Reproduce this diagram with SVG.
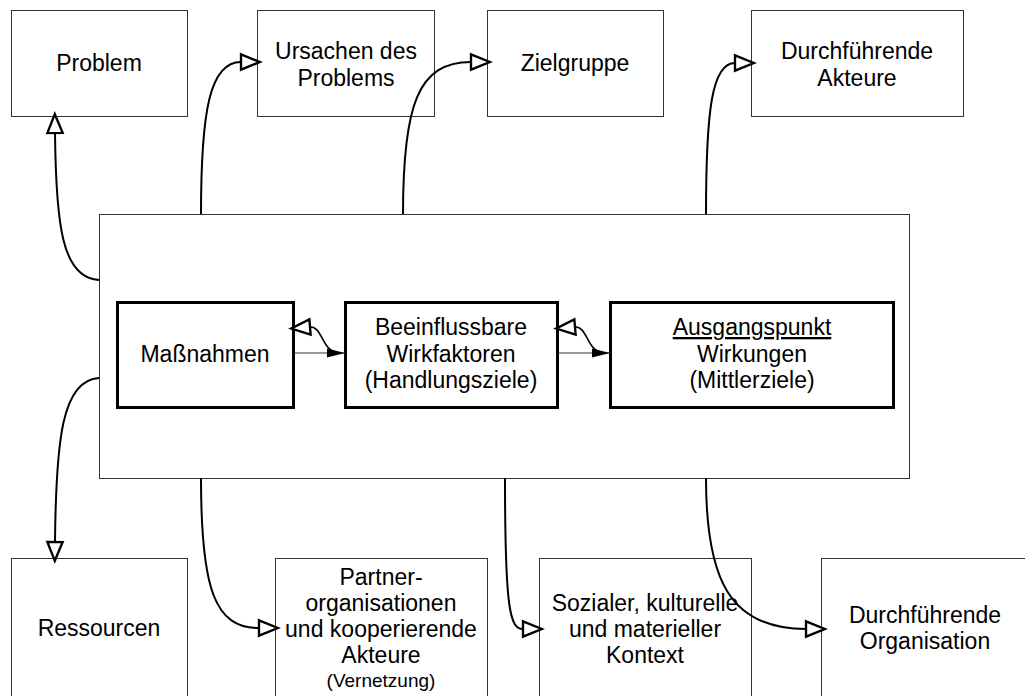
<svg xmlns="http://www.w3.org/2000/svg" width="1025" height="696" viewBox="0 0 1025 696">
  <style>
    .box { fill: #ffffff; stroke: #333333; stroke-width: 1; }
    .inner { fill: #ffffff; stroke: #000000; stroke-width: 3; }
    .lbl { font-family: "Liberation Sans", Arial, sans-serif; font-size: 23px; fill: #000000; text-anchor: middle; }
    .small { font-size: 19px; }
    .conn { fill: none; stroke: #000000; stroke-width: 2; }
    .fb { fill: none; stroke: #000000; stroke-width: 1.6; }
    .thin { fill: none; stroke: #333333; stroke-width: 1; }
  </style>
  <defs>
    <marker id="open" markerUnits="userSpaceOnUse" markerWidth="20" markerHeight="16" viewBox="0 0 17 13" refX="0" refY="6.5" orient="auto" overflow="visible">
      <path d="M0,0 L16,6.5 L0,13 Z" fill="#ffffff" stroke="#000000" stroke-width="2" stroke-linejoin="miter"/>
    </marker>
    <marker id="filled" markerUnits="userSpaceOnUse" markerWidth="18" markerHeight="10" viewBox="0 0 16 8" refX="16" refY="4" orient="auto" overflow="visible">
      <path d="M0,0 L16,4 L0,8 Z" fill="#000000"/>
    </marker>
  </defs>

  <!-- main frame -->
  <g id="frame">
    <rect class="box" x="99.5" y="214.5" width="810" height="264"/>
  </g>

  <!-- top row -->
  <g id="problem">
    <rect class="box" x="11.5" y="10.5" width="176" height="106"/>
    <text class="lbl" x="99" y="71">Problem</text>
  </g>
  <g id="ursachen">
    <rect class="box" x="257.5" y="10.5" width="177" height="106"/>
    <text class="lbl" x="346" y="59">Ursachen des</text>
    <text class="lbl" x="346" y="86">Problems</text>
  </g>
  <g id="zielgruppe">
    <rect class="box" x="487.5" y="10.5" width="176" height="106"/>
    <text class="lbl" x="575" y="71">Zielgruppe</text>
  </g>
  <g id="akteure">
    <rect class="box" x="751.5" y="10.5" width="212" height="106"/>
    <text class="lbl" x="857" y="59">Durchführende</text>
    <text class="lbl" x="857" y="86">Akteure</text>
  </g>

  <!-- inner chain -->
  <g id="massnahmen">
    <rect class="inner" x="117.5" y="302.5" width="176" height="105"/>
    <text class="lbl" x="205" y="362">Maßnahmen</text>
  </g>
  <g id="wirkfaktoren">
    <rect class="inner" x="345.5" y="302.5" width="212" height="105"/>
    <text class="lbl" x="451" y="335">Beeinflussbare</text>
    <text class="lbl" x="451" y="362">Wirkfaktoren</text>
    <text class="lbl" x="451" y="388">(Handlungsziele)</text>
  </g>
  <g id="ausgangspunkt">
    <rect class="inner" x="610.5" y="302.5" width="283" height="105"/>
    <text class="lbl" x="752" y="335" text-decoration="underline">Ausgangspunkt</text>
    <text class="lbl" x="752" y="362">Wirkungen</text>
    <text class="lbl" x="752" y="388">(Mittlerziele)</text>
  </g>

  <!-- bottom row -->
  <g id="ressourcen">
    <rect class="box" x="11.5" y="558.5" width="176" height="160"/>
    <text class="lbl" x="99" y="636">Ressourcen</text>
  </g>
  <g id="partner">
    <rect class="box" x="275.5" y="558.5" width="212" height="160"/>
    <text class="lbl" x="381" y="585">Partner-</text>
    <text class="lbl" x="381" y="611">organisationen</text>
    <text class="lbl" x="381" y="637">und kooperierende</text>
    <text class="lbl" x="381" y="663">Akteure</text>
    <text class="lbl small" x="381" y="687">(Vernetzung)</text>
  </g>
  <g id="kontext">
    <rect class="box" x="539.5" y="558.5" width="212" height="160"/>
    <text class="lbl" x="645" y="611">Sozialer, kulturelle</text>
    <text class="lbl" x="645" y="637">und materieller</text>
    <text class="lbl" x="645" y="663">Kontext</text>
  </g>
  <g id="organisation">
    <rect class="box" x="821.5" y="558.5" width="212" height="160"/>
    <text class="lbl" x="925" y="623">Durchführende</text>
    <text class="lbl" x="925" y="649">Organisation</text>
  </g>

  <!-- connectors -->
  <g id="connectors">
    <path class="conn" marker-end="url(#open)" d="M99,280 C62,278 56,225 55,133"/>
    <path class="conn" marker-end="url(#open)" d="M201,214 C201,110 210,62 241,62"/>
    <path class="conn" marker-end="url(#open)" d="M403,214 C403,105 418,62 471,62"/>
    <path class="conn" marker-end="url(#open)" d="M706,214 C706,110 712,63 735,63"/>
    <path class="conn" marker-end="url(#open)" d="M99,378 C62,380 56,440 55,542"/>
    <path class="conn" marker-end="url(#open)" d="M201,478 C201,590 215,628 259,628"/>
    <path class="conn" marker-end="url(#open)" d="M505,478 C505,610 510,629 523,629"/>
    <path class="conn" marker-end="url(#open)" d="M706,478 C706,580 730,629 806,629"/>

    <!-- links between the inner boxes -->
    <path class="thin" marker-end="url(#filled)" d="M294,353 L345,353"/>
    <path class="fb" marker-end="url(#open)" d="M336,352 C322,350 322,326 310,327"/>
    <path class="thin" marker-end="url(#filled)" d="M558,353 L610,353"/>
    <path class="fb" marker-end="url(#open)" d="M601,352 C587,350 587,326 575,327"/>
  </g>
</svg>
